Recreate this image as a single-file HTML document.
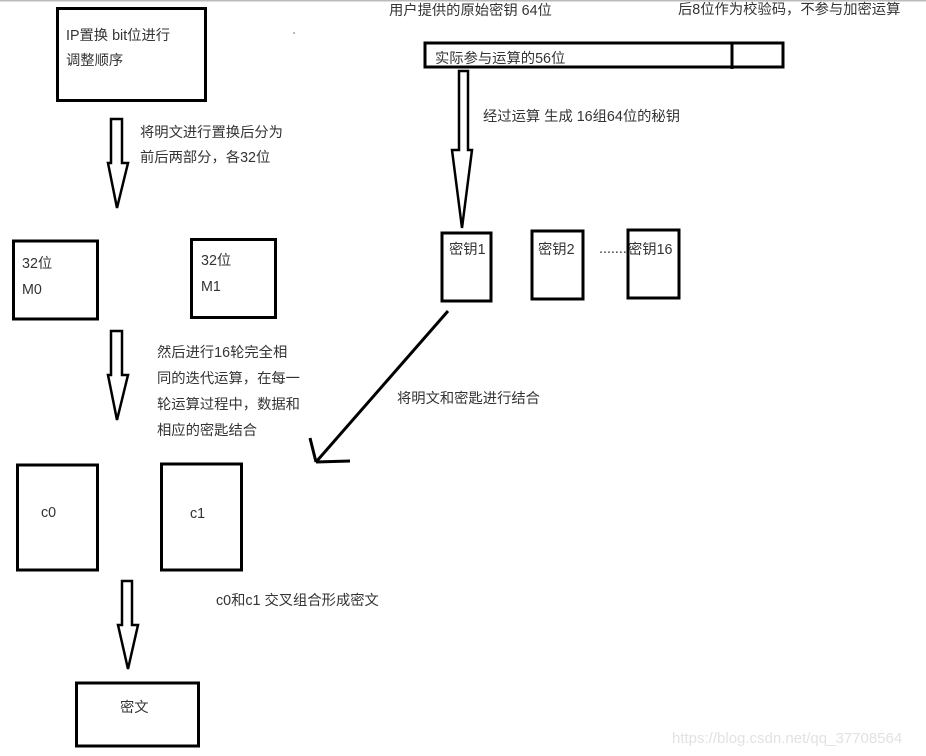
<!DOCTYPE html>
<html><head><meta charset="utf-8"><style>
html,body{margin:0;padding:0;background:#fff;width:926px;height:756px;overflow:hidden}
svg{display:block}
text{font-family:"Liberation Sans","Noto Sans CJK SC",sans-serif;fill:#333;font-size:14.3px}
</style></head><body>
<svg width="926" height="756" viewBox="0 0 926 756">
<rect x="0" y="0" width="926" height="1.5" fill="#bbb"/>
<g fill="none" stroke="#000" stroke-width="3">
<rect x="57.5" y="8.5" width="148" height="92"/>
<rect x="13.5" y="241" width="84" height="78"/>
<rect x="191.5" y="239.5" width="84" height="78"/>
<rect x="17.5" y="465" width="80" height="105"/>
<rect x="161.5" y="464" width="80" height="106"/>
<rect x="76.5" y="683" width="122" height="63"/>
<rect x="425" y="43" width="358" height="24"/>
<line x1="732" y1="43" x2="732" y2="69"/>
<rect x="442" y="233" width="49" height="68"/>
<rect x="532" y="231" width="51" height="68"/>
<rect x="628" y="230" width="51" height="68"/>
<path d="M111 119 H122 V163 H128 L117 208 L108 163 H111 Z" stroke-width="2.5"/>
<path d="M111 331 H122 V375 H128 L117 420 L108 375 H111 Z" stroke-width="2.5"/>
<path d="M122 581 H132 V625 H138 L128 669 L118 625 H122 Z" stroke-width="2.5"/>
<path d="M459 71 H468 V150 H472 L462 228 L452 150 H459 Z" stroke-width="2.5"/>
<path d="M448 311 L316 462 M316 462 L310 438 M316 462 L350 461" stroke-width="3"/>
</g>
<text x="599" y="253" font-size="10">.......</text>
<text x="66" y="40" font-size="18">IP置换 bit位进行</text>
<text x="66" y="65" font-size="15">调整顺序</text>
<text x="140" y="137">将明文进行置换后分为</text>
<text x="140" y="162">前后两部分，各32位</text>
<text x="22" y="268" font-size="16.5">32位</text>
<text x="22" y="294" font-size="16.5">M0</text>
<text x="201" y="265" font-size="16.5">32位</text>
<text x="201" y="291" font-size="16.5">M1</text>
<text x="157" y="357">然后进行16轮完全相</text>
<text x="157" y="383">同的迭代运算，在每一</text>
<text x="157" y="409">轮运算过程中，数据和</text>
<text x="157" y="435">相应的密匙结合</text>
<text x="41" y="517" font-size="15.5">c0</text>
<text x="190" y="518" font-size="15.5">c1</text>
<text x="216" y="605">c0和c1 交叉组合形成密文</text>
<text x="120" y="712">密文</text>
<text x="389" y="15">用户提供的原始密钥  64位</text>
<text x="678" y="14">后8位作为校验码，不参与加密运算</text>
<text x="435" y="63" font-size="15">实际参与运算的56位</text>
<text x="483" y="121">经过运算 生成 16组64位的秘钥</text>
<text x="449" y="254" font-size="15.7">密钥1</text>
<text x="538" y="254" font-size="15.7">密钥2</text>
<text x="628" y="254" font-size="15.7">密钥16</text>
<text x="397" y="403">将明文和密匙进行结合</text>
<text x="672" y="743" style="fill:#e2e2e2;font-size:15px">https://blog.csdn.net/qq_37708564</text>
<circle cx="294" cy="33" r="0.8" fill="#666"/>
</svg>
</body></html>
